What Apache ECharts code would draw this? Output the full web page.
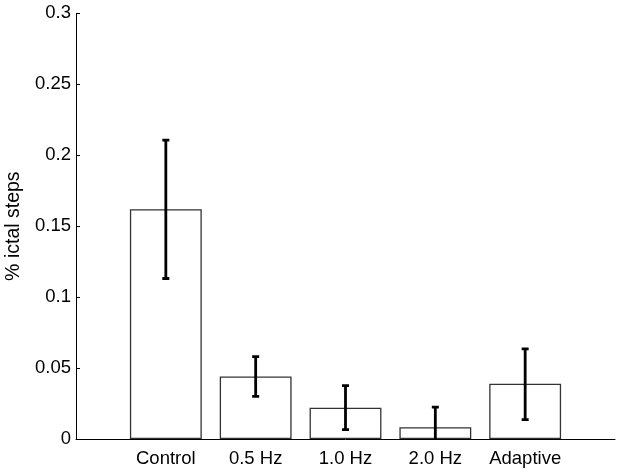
<!DOCTYPE html>
<html>
<head>
<meta charset="utf-8">
<script src="https://cdn.jsdelivr.net/npm/echarts@6/dist/echarts.min.js"></script>
<style>
html,body{margin:0;padding:0;background:#fff;}
#c{width:624px;height:473px;}
</style>
</head>
<body>
<div id="c"></div>
<script>
// Data
const categories = ['', 'Control', '0.5 Hz', '1.0 Hz', '2.0 Hz', 'Adaptive', ''];
const means = [null, 0.1619, 0.0440, 0.0221, 0.0083, 0.0390, null];
const errUpper = [null, 0.2106, 0.0581, 0.0376, 0.0224, 0.0635, null];
const errLower = [null, 0.1131, 0.0301, 0.0066, -0.0058, 0.0136, null];
const yTicks = [0, 0.05, 0.1, 0.15, 0.2, 0.25, 0.3];

const FONT = 'Liberation Sans, Arial, Helvetica, sans-serif';
const errData = [];
for (let i = 0; i < categories.length; i++) {
  if (means[i] !== null) errData.push([i, errLower[i], errUpper[i]]);
}

const chart = echarts.init(document.getElementById('c'), null, {renderer: 'canvas'});
chart.setOption({
  animation: false,
  backgroundColor: '#fff',
  grid: {left: 76, right: 9, top: 13.3, bottom: 34, containLabel: false, outerBoundsMode: 'none'},
  xAxis: {
    type: 'category',
    data: categories,
    boundaryGap: false,
    axisLine: {lineStyle: {color: '#000', width: 1}},
    axisTick: {inside: true, length: 4, lineStyle: {color: '#000'},
      interval: function (i) { return i > 0 && i < categories.length - 1; }},
    axisLabel: {color: '#000', fontFamily: FONT, fontSize: 18.5, margin: 10,
      interval: 0},
    splitLine: {show: false}
  },
  yAxis: {
    type: 'value',
    min: yTicks[0],
    max: yTicks[yTicks.length - 1],
    interval: 0.05,
    name: '% ictal steps',
    nameLocation: 'middle',
    nameGap: 49,
    nameTextStyle: {color: '#000', fontFamily: FONT, fontSize: 19.5},
    axisLine: {show: true, lineStyle: {color: '#000', width: 1}},
    axisTick: {show: true, inside: true, length: 4, lineStyle: {color: '#000'}},
    axisLabel: {color: '#000', fontFamily: FONT, fontSize: 18.5, margin: 5},
    splitLine: {show: false}
  },
  series: [
    {
      type: 'bar',
      data: means,
      barWidth: '80%',
      itemStyle: {color: '#fff', borderColor: '#333', borderWidth: 1.3},
      z: 2
    },
    {
      type: 'custom',
      clip: true,
      z: 3,
      data: errData,
      renderItem: function (params, api) {
        const x = api.value(0);
        const lo = api.coord([x, api.value(1)]);
        const hi = api.coord([x, api.value(2)]);
        const hw = 3.5;
        const style = {stroke: '#000', lineWidth: 2.8};
        return {
          type: 'group',
          children: [
            {type: 'line', shape: {x1: hi[0], y1: hi[1], x2: lo[0], y2: lo[1]}, style: style},
            {type: 'line', shape: {x1: hi[0] - hw, y1: hi[1], x2: hi[0] + hw, y2: hi[1]}, style: style},
            {type: 'line', shape: {x1: lo[0] - hw, y1: lo[1], x2: lo[0] + hw, y2: lo[1]}, style: style}
          ]
        };
      }
    }
  ]
});
</script>
</body>
</html>
